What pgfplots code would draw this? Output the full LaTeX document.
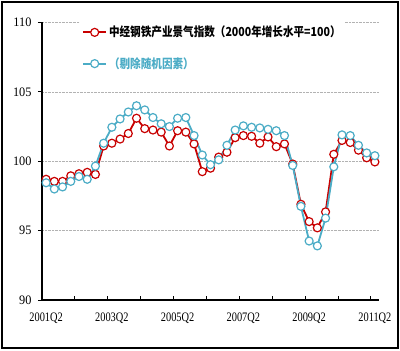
\documentclass[border=0pt]{standalone}
\usepackage{fontspec}
\usepackage{pgfplots}
\usepackage{pgfplotstable}
\pgfplotsset{compat=1.18}
\newfontfamily\cjk[FakeStretch=0.85]{Noto Sans CJK SC}
\newfontfamily\tickfont[FakeStretch=0.8]{Liberation Serif}
\newfontfamily\ytickfont[FakeStretch=0.95]{Liberation Serif}
\definecolor{sred}{HTML}{C80000}
\definecolor{scyan}{HTML}{4BACC6}

\pgfplotstableread{
i red cyan
0 98.70 98.45
1 98.55 98.00
2 98.55 98.15
3 98.95 98.55
4 99.10 98.90
5 99.20 98.70
6 99.05 99.65
7 101.10 101.30
8 101.30 102.45
9 101.60 103.05
10 102.00 103.55
11 103.10 104.00
12 102.35 103.70
13 102.25 103.15
14 102.10 102.70
15 101.10 102.50
16 102.20 103.10
17 102.10 103.15
18 101.25 101.85
19 99.25 100.45
20 99.50 99.75
21 100.30 100.10
22 100.65 101.15
23 101.70 102.25
24 101.85 102.55
25 101.80 102.45
26 101.30 102.40
27 101.75 102.30
28 101.05 102.20
29 101.25 101.85
30 99.80 99.70
31 96.90 96.75
32 95.65 94.25
33 95.20 93.90
34 96.35 95.90
35 100.50 99.60
36 101.50 101.90
37 101.35 101.85
38 100.80 101.15
39 100.25 100.60
40 99.95 100.40
}\datatable

\begin{document}
\begin{tikzpicture}[x=1bp,y=1bp]
\path (0,0) rectangle (400,351);
\draw[line width=1.2bp] (2,3) rectangle (398,349);
\begin{axis}[
  at={(42bp,51bp)}, anchor=south west,
  scale only axis, width=337bp, height=277.5bp,
  xmin=-0.5, xmax=40.5, ymin=90, ymax=110,
  axis x line*=bottom, axis y line*=left,
  axis line style={-, black, line width=1.2bp},
  tick align=inside, major tick length=4bp,
  tick style={black, line width=0.8bp},
  xtick={3.5,7.5,...,39.5}, xticklabels={},
  extra x ticks={0,8,16,24,32,40},
  extra x tick labels={2001Q2,2003Q2,2005Q2,2007Q2,2009Q2,2011Q2},
  extra x tick style={tick style={draw=none}, xticklabel style={font=\tickfont\fontsize{13}{13}\selectfont, yshift=-9bp}},
  ytick={90,95,100,105,110}, yticklabels={90,95,100,105,110},
  y tick style={xshift=-4bp},
  yticklabel style={font=\ytickfont\fontsize{13}{13}\selectfont, xshift=-7bp},
  ymajorgrids, y grid style={densely dotted, gray!60, line width=0.6bp},
  legend style={at={(0.113,1.016)}, anchor=north west, draw=none, fill=white,
    inner xsep=2bp, inner ysep=6bp,
    font=\cjk\bfseries\fontsize{12.5}{13}\selectfont, row sep=15bp},
  legend cell align=left,
  legend image code/.code={\draw[mark repeat=2,mark phase=2,#1] plot coordinates {(0bp,0bp) (11.5bp,0bp) (23bp,0bp)};},
  clip=false,
]
\addplot[sred, line width=1.8bp, mark=*, mark size=4bp, mark options={fill=white, draw=sred, line width=1.2bp}] table[x=i, y=red] {\datatable};
\addlegendentry{中经钢铁产业景气指数（2000年增长水平=100）}
\addplot[scyan, line width=1.8bp, mark=*, mark size=4bp, mark options={fill=white, draw=scyan, line width=1.2bp}] table[x=i, y=cyan] {\datatable};
\addlegendentry{\textcolor{scyan}{（剔除随机因素）}}
\end{axis}
\end{tikzpicture}
\end{document}
